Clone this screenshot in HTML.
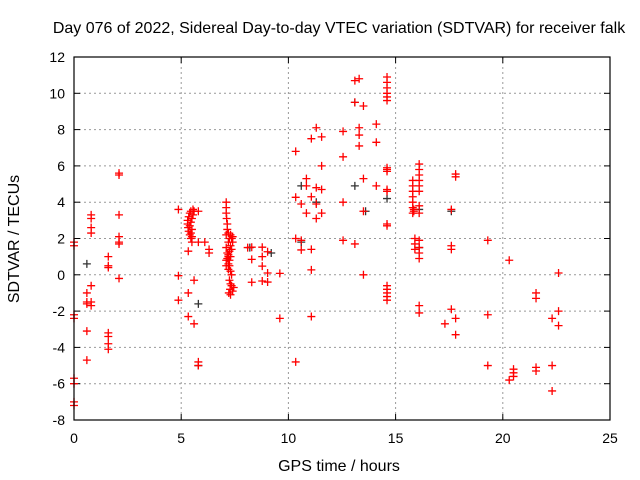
<!DOCTYPE html>
<html><head><meta charset="utf-8"><style>
body{margin:0;background:#fff}
svg{display:block;font-family:"Liberation Sans",sans-serif}
</style></head><body>
<svg id="chart" width="640" height="480">
<text x="339" y="33" font-size="16" text-anchor="middle" fill="#000">Day 076 of 2022, Sidereal Day-to-day VTEC variation (SDTVAR) for receiver falk</text>
<text x="339" y="471" font-size="16" text-anchor="middle">GPS time / hours</text>
<text transform="translate(19,239) rotate(-90)" font-size="16" text-anchor="middle">SDTVAR / TECUs</text>
<g id="grid"></g><g id="ticks"></g><g id="marks"></g>
<rect x="74" y="57" width="536" height="363" fill="none" stroke="#000" stroke-width="1.2"/>
</svg>
<script>
const xTicks=[0,5,10,15,20,25];
const yTicks=[-8,-6,-4,-2,0,2,4,6,8,10,12];
const redX=[0,0,0,0,0,0,0,0,0.6,0.6,0.6,0.6,0.6,0.8,0.8,0.8,0.8,0.8,0.8,0.8,1.6,1.6,1.6,1.6,1.6,1.6,1.6,2.1,2.1,2.1,2.1,2.1,2.1,2.1,
4.87,4.87,4.87,5.33,5.33,5.33,5.6,5.6,5.8,5.8,5.8,5.8,6.1,6.3,6.3,
5.55,5.45,5.4,5.35,5.3,5.3,5.32,5.35,5.4,5.45,5.5,5.55,5.5,5.45,5.6,5.5,5.4,5.45,5.5,
7.1,7.1,7.1,7.12,7.15,7.15,7.2,7.1,7.25,7.3,7.35,7.4,7.2,7.3,7.1,7.15,7.25,7.35,7.3,7.2,7.1,7.2,7.25,7.2,7.15,7.1,7.3,7.35,7.4,7.25,7.3,7.35,7.28,7.22,7.3,7.4,7.45,7.2,7.25,
8.1,8.29,8.29,8.29,8.78,8.78,8.78,8.78,9.03,9.03,9.03,9.6,9.6,
10.34,10.34,10.34,10.34,10.6,10.6,10.6,10.84,10.84,10.84,11.07,11.07,11.07,11.07,11.07,11.3,11.3,11.3,11.3,11.55,11.55,11.55,11.55,
12.55,12.55,12.55,12.55,13.1,13.1,13.1,13.3,13.3,13.3,13.3,13.5,13.5,13.5,13.5,14.1,14.1,14.1,
14.6,14.6,14.6,14.6,14.6,14.6,14.6,14.6,14.6,14.6,14.6,14.6,14.6,14.6,14.6,14.6,14.6,14.6,
15.8,15.8,15.8,15.8,15.8,15.8,15.8,15.85,15.85,15.9,15.9,15.9,
16.1,16.1,16.1,16.1,16.1,16.1,16.1,16.1,16.1,16.1,16.1,16.1,16.1,16.1,
17.8,17.8,17.6,17.6,17.6,17.6,17.8,17.8,17.3,19.3,19.3,19.3,20.3,20.3,20.5,20.5,20.5,21.55,21.55,21.55,21.55,22.3,22.3,22.3,22.6,22.6,22.6];
const redY=[1.8,1.6,-2.2,-2.4,-5.7,-6,-7,-7.2,-1,-1.5,-1.6,-3.1,-4.7,3.3,3.1,2.6,2.3,-0.6,-1.5,-1.7,1,0.4,0.5,-3.2,-3.4,-3.8,-4.1,5.6,5.5,3.3,2.1,1.8,1.7,-0.2,
3.6,-0.05,-1.4,1.3,-1,-2.3,-2.7,-0.3,3.5,1.8,-4.8,-5,1.8,1.4,1.2,
3.6,3.5,3.4,3.2,3.0,2.8,2.6,2.4,2.2,2.0,1.8,3.3,3.1,2.9,3.5,2.5,2.7,2.3,2.1,
4.0,3.7,3.4,3.1,2.8,2.5,2.3,2.2,2.0,2.2,2.0,2.1,1.8,1.6,1.5,1.2,1.3,1.4,1.0,1.0,0.8,0.6,0.5,1.1,0.9,0.5,0.2,0.0,1.8,-0.3,-0.5,-0.6,-0.8,-1.0,-1.1,-0.9,-0.7,0.3,0.8,
1.5,1.52,0.85,-0.41,1.52,1.0,0.48,-0.34,1.27,0.1,-0.4,0.08,-2.4,
4.27,2.0,6.8,-4.8,3.9,1.9,1.37,5.3,4.9,3.4,7.5,4.3,1.4,0.27,-2.3,8.1,4.8,3.9,3.1,7.6,6.0,4.7,3.4,
7.9,6.5,4.0,1.9,10.7,9.5,1.7,10.8,8.1,7.7,7.1,9.3,5.3,3.5,0,8.3,7.3,4.9,
10.9,10.6,10.3,10.0,9.8,9.6,5.9,5.7,4.7,4.6,2.8,2.7,-0.6,-0.8,-1.0,-1.2,-1.4,5.8,
5.2,4.9,4.6,4.3,4.0,3.7,3.4,3.6,3.5,2.0,1.7,1.4,
6.1,5.8,5.5,5.2,4.9,4.6,3.8,3.4,1.9,1.5,1.2,0.9,-1.7,-2.1,
5.55,5.4,3.6,1.6,1.4,-1.9,-2.4,-3.3,-2.7,1.9,-2.2,-5.0,0.8,-5.8,-5.2,-5.4,-5.6,-1.0,-1.3,-5.1,-5.3,-2.4,-5.0,-6.4,0.1,-2.0,-2.8];
const darkX=[0.6,5.8,5.8,8.2,9.2,10.6,10.6,11.3,13.1,13.1,13.6,14.6,16.1,16.1,17.6];
const darkY=[0.6,-1.6,-5.0,1.5,1.2,1.8,4.9,4.0,9.5,4.9,3.5,4.2,3.6,1.5,3.5];
const X0=74,X1=610,Y0=420,Y1=57;
const sx=v=>X0+(v-0)/(25-0)*(X1-X0);
const sy=v=>Y0-(v+8)/(20)*(Y0-Y1);
const NS='http://www.w3.org/2000/svg';
const grid=document.getElementById('grid'),ticks=document.getElementById('ticks'),marks=document.getElementById('marks');
function mk(t,a,p){const e=document.createElementNS(NS,t);for(const k in a)e.setAttribute(k,a[k]);p.appendChild(e);return e;}
xTicks.forEach(v=>{const x=sx(v);
 if(v>0&&v<25){const g=mk('line',{x1:x,x2:x,y1:Y1,y2:Y0,stroke:'#999','stroke-dasharray':'2,3'},grid);
 
 }
 mk('line',{x1:x,x2:x,y1:Y0,y2:Y0-6,stroke:'#000'},ticks);mk('line',{x1:x,x2:x,y1:Y1,y2:Y1+6,stroke:'#000'},ticks);
 const t=mk('text',{x:x,y:Y0+23,'font-size':14,'text-anchor':'middle'},ticks);t.textContent=v;
 
 });
yTicks.forEach(v=>{const y=sy(v);
 if(v>-8&&v<12){const g=mk('line',{x1:X0,x2:X1,y1:y,y2:y,stroke:'#999','stroke-dasharray':'2,3'},grid);
 
 }
 mk('line',{x1:X0,x2:X0+6,y1:y,y2:y,stroke:'#000'},ticks);mk('line',{x1:X1,x2:X1-6,y1:y,y2:y,stroke:'#000'},ticks);
 const t=mk('text',{x:X0-9,y:y+5,'font-size':14,'text-anchor':'end'},ticks);t.textContent=v;
 
 });
function plus(x,y,c,name){const x0=sx(x),y0=sy(y);
 const p=mk('path',{d:`M${x0-4},${y0}H${x0+4}M${x0},${y0-4}V${y0+4}`,stroke:c,'stroke-width':1.3,fill:'none'},marks);
 
 }
darkX.forEach((x,i)=>plus(x,darkY[i],'#333','dark-point'));
redX.forEach((x,i)=>plus(x,redY[i],'#f00','sdtvar-point'));
</script>
</body></html>
